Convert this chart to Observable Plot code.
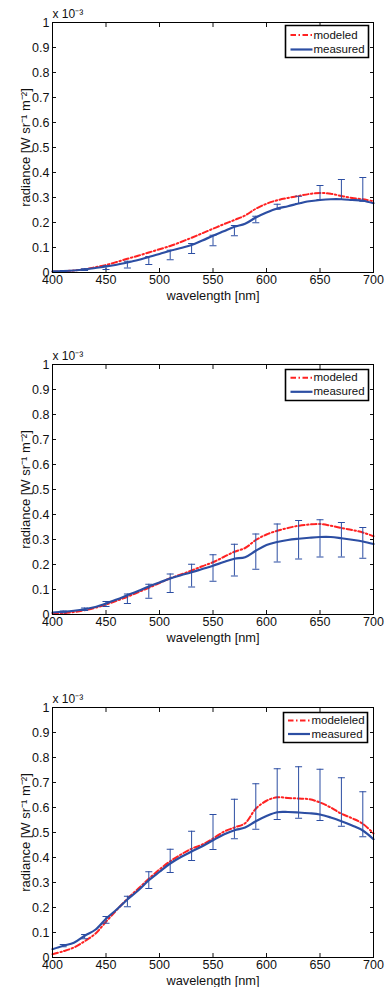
<!DOCTYPE html>
<html>
<head>
<meta charset="utf-8">
<script src="https://cdn.jsdelivr.net/npm/d3@7"></script>
<script src="https://cdn.jsdelivr.net/npm/@observablehq/plot@0.6"></script>
<style>
  html, body { margin: 0; padding: 0; background: #fff; }
  #chart svg { display: block; }
</style>
</head>
<body>
<div id="chart"></div>
<script>
// ---- data (radiance in units of 1e-3 W sr^-1 m^-2) ----
const wavelengths = [400,410,420,430,440,450,460,470,480,490,500,510,520,530,540,550,560,570,580,590,600,610,620,630,640,650,660,670,680,690,700];
const errWavelengths = [410,430,450,470,490,510,530,550,570,590,610,630,650,670,690];
const xTicks = [400,450,500,550,600,650,700];
const yTicks = [0,0.1,0.2,0.3,0.4,0.5,0.6,0.7,0.8,0.9,1];
const legendLabels1 = ["modeled", "measured"];
const legendLabels2 = ["modeled", "measured"];
const legendLabels3 = ["modeleled", "measured"];

const measured1 = [0.005,0.006,0.008,0.012,0.018,0.024,0.031,0.04,0.05,0.062,0.074,0.087,0.098,0.11,0.128,0.147,0.165,0.183,0.195,0.22,0.24,0.256,0.265,0.276,0.285,0.29,0.293,0.293,0.29,0.287,0.277];
const modeled1  = [0.003,0.005,0.008,0.013,0.021,0.03,0.042,0.055,0.067,0.08,0.093,0.106,0.122,0.139,0.157,0.175,0.193,0.21,0.228,0.255,0.275,0.289,0.298,0.306,0.314,0.318,0.315,0.306,0.298,0.293,0.285];
const errLow1   = [0.004,0.008,0.012,0.018,0.032,0.051,0.076,0.107,0.147,0.199,0.253,0.276,0.292,0.292,0.285];
const errHigh1  = [0.008,0.015,0.027,0.045,0.064,0.089,0.116,0.149,0.188,0.225,0.273,0.305,0.348,0.372,0.38];

const measured2 = [0.008,0.011,0.015,0.021,0.03,0.044,0.06,0.077,0.094,0.112,0.128,0.144,0.157,0.169,0.182,0.195,0.21,0.223,0.229,0.255,0.278,0.29,0.298,0.303,0.307,0.31,0.31,0.305,0.299,0.292,0.282];
const modeled2  = [0.003,0.005,0.01,0.017,0.027,0.04,0.055,0.071,0.089,0.107,0.126,0.145,0.16,0.176,0.193,0.209,0.23,0.251,0.266,0.298,0.32,0.335,0.346,0.355,0.36,0.362,0.355,0.346,0.338,0.328,0.313];
const errLow2   = [0.007,0.016,0.032,0.044,0.065,0.088,0.11,0.133,0.154,0.181,0.21,0.222,0.23,0.23,0.225];
const errHigh2  = [0.014,0.026,0.052,0.082,0.121,0.162,0.201,0.239,0.281,0.322,0.362,0.376,0.379,0.368,0.348];

const measured3 = [0.033,0.047,0.059,0.087,0.111,0.155,0.192,0.232,0.268,0.309,0.343,0.376,0.402,0.424,0.445,0.469,0.492,0.509,0.52,0.545,0.566,0.581,0.582,0.58,0.577,0.572,0.56,0.545,0.528,0.508,0.473];
const modeled3  = [0.013,0.025,0.04,0.065,0.095,0.143,0.19,0.235,0.275,0.315,0.352,0.385,0.412,0.435,0.452,0.476,0.503,0.52,0.537,0.595,0.627,0.641,0.638,0.636,0.633,0.62,0.6,0.575,0.557,0.535,0.496];
const errLow3   = [0.043,0.075,0.137,0.203,0.276,0.34,0.388,0.432,0.475,0.513,0.552,0.557,0.548,0.525,0.483];
const errHigh3  = [0.052,0.092,0.164,0.245,0.343,0.433,0.505,0.572,0.633,0.695,0.755,0.763,0.753,0.719,0.663];

// ---- styling ----
const BLUE = "#2c4ea3";
const RED = "#ff2222";
const DASHDOT = "5.5,2.5,1.5,2.5";
const FONT = "'Liberation Sans', Arial, Helvetica, sans-serif";

const capSymbol = { draw(ctx) { ctx.moveTo(-3.5, 0); ctx.lineTo(3.5, 0); } };
const sampleSymbol = (half) => ({ draw(ctx) { ctx.moveTo(-half, 0); ctx.lineTo(half, 0); } });
const boxSymbol = (w, h) => ({ draw(ctx) { ctx.rect(-w / 2, -h / 2, w, h); } });

function panel({measured, modeled, low, high, labels, height, marginTop, marginBottom, lg}) {
  const curve = wavelengths.map((w, i) => ({w, measured: measured[i], modeled: modeled[i]}));
  const bars = errWavelengths.map((w, i) => ({w, lo: low[i], hi: high[i]}));
  return Plot.plot({
    width: 387,
    height,
    marginLeft: 52,
    marginRight: 14,
    marginTop,
    marginBottom,
    style: {fontFamily: FONT, fontSize: "12.5px", color: "#111", background: "#fff", overflow: "visible"},
    x: {domain: [400, 700]},
    y: {domain: [0, 1]},
    marks: [
      // tick labels
      Plot.axisX({ticks: xTicks, tickSize: 0, tickPadding: 3, label: null, tickFormat: d => String(d), fontSize: 12.5}),
      Plot.axisY({ticks: yTicks, tickSize: 0, tickPadding: 3, label: null, tickFormat: d => String(+d.toFixed(1)), fontSize: 12.5}),
      // inward ticks on all four sides
      Plot.axisX({ticks: xTicks, anchor: "bottom", tickSize: -4, fill: "none", label: null}),
      Plot.axisX({ticks: xTicks, anchor: "top", tickSize: -4, fill: "none", label: null}),
      Plot.axisY({ticks: yTicks, anchor: "left", tickSize: -4, fill: "none", label: null}),
      Plot.axisY({ticks: yTicks, anchor: "right", tickSize: -4, fill: "none", label: null}),
      // data
      Plot.line(curve, {x: "w", y: "modeled", stroke: RED, strokeWidth: 2, strokeDasharray: DASHDOT, curve: "catmull-rom"}),
      Plot.ruleX(bars, {x: "w", y1: "lo", y2: "hi", stroke: BLUE, strokeWidth: 1}),
      Plot.dot(bars, {x: "w", y: "lo", symbol: capSymbol, stroke: BLUE, strokeWidth: 1, fill: "none"}),
      Plot.dot(bars, {x: "w", y: "hi", symbol: capSymbol, stroke: BLUE, strokeWidth: 1, fill: "none"}),
      Plot.line(curve, {x: "w", y: "measured", stroke: BLUE, strokeWidth: 2.2, curve: "catmull-rom"}),
      Plot.frame({stroke: "#000", strokeWidth: 1}),
      // legend
      Plot.dot([0], {frameAnchor: "top-right", dx: lg.boxDx, dy: lg.boxDy, symbol: boxSymbol(lg.boxW, lg.boxH), stroke: "#000", strokeWidth: 1.6, fill: "#fff"}),
      Plot.dot([0], {frameAnchor: "top-right", dx: lg.sampleDx, dy: lg.row1, symbol: sampleSymbol(11), stroke: RED, strokeWidth: 2, strokeDasharray: DASHDOT, fill: "none"}),
      Plot.dot([0], {frameAnchor: "top-right", dx: lg.sampleDx, dy: lg.row2, symbol: sampleSymbol(11), stroke: BLUE, strokeWidth: 2.2, fill: "none"}),
      Plot.text([labels[0]], {frameAnchor: "top-right", textAnchor: "start", lineAnchor: "middle", dx: lg.textDx, dy: lg.row1, fontSize: 11.5}),
      Plot.text([labels[1]], {frameAnchor: "top-right", textAnchor: "start", lineAnchor: "middle", dx: lg.textDx, dy: lg.row2, fontSize: 11.5}),
      // labels
      Plot.text(["x 10\u207B\u00B3"], {frameAnchor: "top-left", textAnchor: "start", lineAnchor: "middle", dy: -8, fontSize: 12}),
      Plot.text(["wavelength [nm]"], {frameAnchor: "bottom", textAnchor: "middle", lineAnchor: "middle", dy: 23, fontSize: 12.8}),
      Plot.text(["radiance [W sr\u207B\u00B9 m\u207B\u00B2]"], {frameAnchor: "left", textAnchor: "middle", lineAnchor: "middle", rotate: -90, dx: -27, fontSize: 13})
    ]
  });
}

const chart = document.getElementById("chart");
chart.append(panel({measured: measured1, modeled: modeled1, low: errLow1, high: errHigh1, labels: legendLabels1,
  height: 342, marginTop: 22, marginBottom: 70,
  lg: {boxDx: -46.5, boxDy: 19, boxW: 83, boxH: 32, sampleDx: -72, textDx: -60, row1: 12.5, row2: 27}}));
chart.append(panel({measured: measured2, modeled: modeled2, low: errLow2, high: errHigh2, labels: legendLabels2,
  height: 342, marginTop: 22, marginBottom: 70,
  lg: {boxDx: -46.5, boxDy: 20.5, boxW: 83, boxH: 31, sampleDx: -72, textDx: -60, row1: 13.3, row2: 27.3}}));
chart.append(panel({measured: measured3, modeled: modeled3, low: errLow3, high: errHigh3, labels: legendLabels3,
  height: 303, marginTop: 23, marginBottom: 30,
  lg: {boxDx: -48, boxDy: 20, boxW: 84, boxH: 30, sampleDx: -74.5, textDx: -62, row1: 13, row2: 26.5}}));
</script>
</body>
</html>
